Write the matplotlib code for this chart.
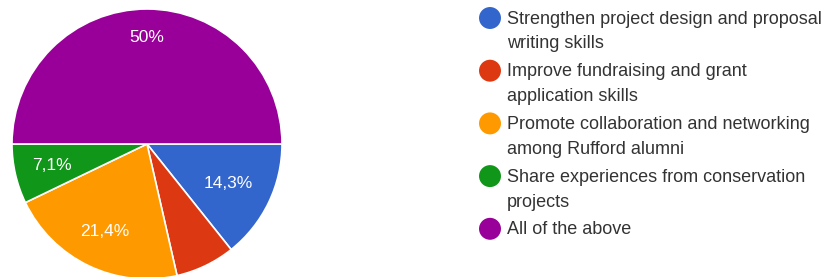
import numpy as np
import matplotlib.pyplot as plt

categories = [
    'Strengthen project design and proposal\nwriting skills',
    'Improve fundraising and grant\napplication skills',
    'Promote collaboration and networking\namong Rufford alumni',
    'Share experiences from conservation\nprojects',
    'All of the above',
]
counts = [2, 1, 3, 1, 7]
pct_labels = ['14,3%', '', '21,4%', '7,1%', '50%']
colors = ['#3366cc', '#dc3912', '#ff9900', '#109618', '#990099']

plt.rcParams['font.family'] = ['Liberation Sans', 'DejaVu Sans']

W, H = 829, 277
fig = plt.figure(figsize=(W / 100, H / 100), dpi=100, facecolor='white')

# pie axes: centre (147, 144) px from top, radius 135 px
cx, cy, r = 147, 144, 135
ax = fig.add_axes([(cx - r) / W, (H - cy - r) / H, 2 * r / W, 2 * r / H])
wedges, _ = ax.pie(counts, colors=colors, startangle=0, counterclock=False,
                   radius=1, wedgeprops=dict(edgecolor='white', linewidth=1.2))
ax.set_xlim(-1, 1)
ax.set_ylim(-1, 1)
ax.set_aspect('equal')
ax.axis('off')

dists = [0.67, 0.72, 0.72, 0.72, 0.79]
for w, lab, d in zip(wedges, pct_labels, dists):
    if not lab:
        continue
    ang = np.deg2rad((w.theta1 + w.theta2) / 2)
    ax.text(d * np.cos(ang), d * np.sin(ang), lab, color='white', fontsize=12.5,
            ha='center', va='center')

# legend in pixel coordinates
lax = fig.add_axes([0, 0, 1, 1])
lax.set_xlim(0, W)
lax.set_ylim(H, 0)
lax.axis('off')
y = 18
for lab, c in zip(categories, colors):
    lax.scatter(490, y, s=250, color=c, edgecolors='none')
    for i, line in enumerate(lab.split('\n')):
        lax.text(507, y + i * 25 + 1, line, fontsize=13, color='#333333',
                 va='center', ha='left')
    y += 52.7

fig.savefig('out.png', dpi=100, facecolor='white')
